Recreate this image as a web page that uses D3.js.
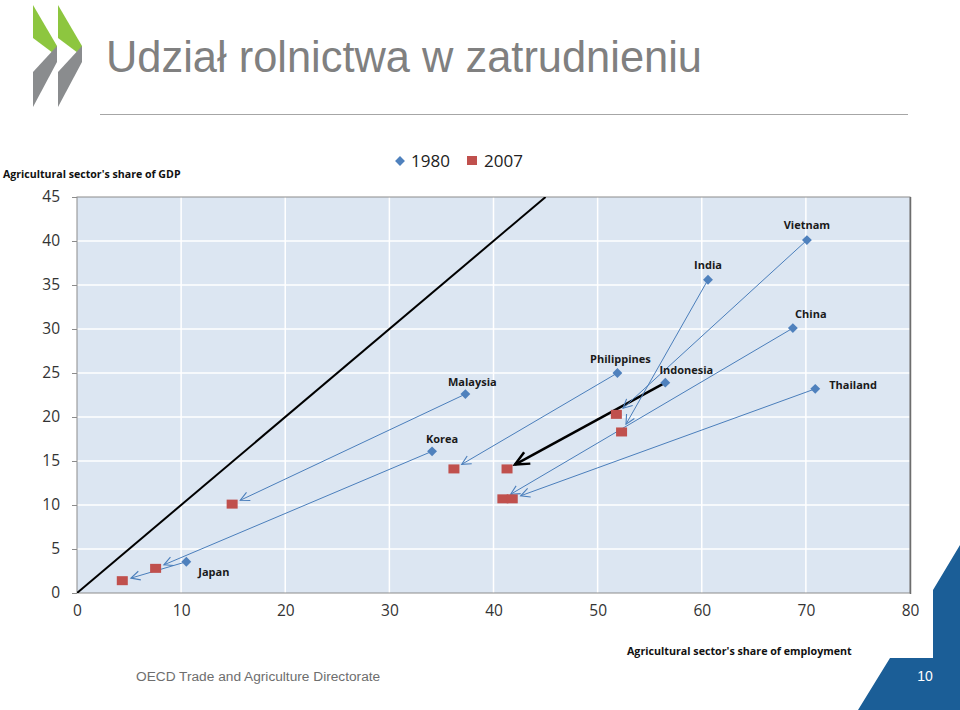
<!DOCTYPE html>
<html><head><meta charset="utf-8">
<script src="https://cdn.jsdelivr.net/npm/d3@7/dist/d3.min.js"></script>
<style>body{margin:0;background:#fff;} svg{display:block;}</style>
</head><body>
<svg id="c" width="960" height="710"></svg>
<script>
const countries = ["Japan","Korea","Malaysia","Philippines","Indonesia","India","Vietnam","China","Thailand"];
const emp1980 = [10.5, 34.1, 37.3, 51.9, 56.5, 60.6, 70.1, 68.75, 70.9];
const gdp1980 = [3.55, 16.1, 22.6, 25.0, 23.9, 35.6, 40.1, 30.1, 23.2];
const emp2007 = [4.35, 7.55, 14.9, 36.2, 41.3, 52.3, 51.8, 40.9, 41.8];
const gdp2007 = [1.4, 2.8, 10.1, 14.1, 14.1, 18.3, 20.3, 10.7, 10.7];
const xTicks = [0,10,20,30,40,50,60,70,80];
const yTicks = [0,5,10,15,20,25,30,35,40,45];
const seriesNames = ["1980","2007"];
const highlighted = "Indonesia";
// label offsets (layout): [dx, dy, anchor]
const labelPos = {
  Japan:[12,14,"start"], Korea:[10,-8,"middle"], Malaysia:[7,-8,"middle"],
  Philippines:[3,-10,"middle"], Indonesia:[21,-9,"middle"], India:[0,-11,"middle"],
  Vietnam:[0,-11,"middle"], China:[18,-10,"middle"], Thailand:[14,0,"start"]
};

const svg = d3.select("#c");
const L=77, R=910, T=197, B=593;
const x = d3.scaleLinear().domain([0,80]).range([L,R]);
const y = d3.scaleLinear().domain([0,45]).range([B,T]);

// Logo
const logo = svg.append("g");
[0,25].forEach(o=>{
  logo.append("polygon").attr("points",[[33+o,5],[57+o,46],[57+o,56],[33+o,38]].join(" ")).attr("fill","#8dc63f");
  logo.append("polygon").attr("points",[[33+o,72],[57+o,46],[57+o,62],[33+o,107]].join(" ")).attr("fill","#8a8c8e");
});
// Title
svg.append("text").attr("x",106).attr("y",72).text("Udział rolnictwa w zatrudnieniu")
  .attr("font-family","Liberation Sans, Arial, sans-serif").attr("font-size",43.5).attr("fill","#808080")
  .attr("textLength",596).attr("lengthAdjust","spacingAndGlyphs");
svg.append("line").attr("x1",100).attr("x2",908).attr("y1",114.5).attr("y2",114.5).attr("stroke","#a6a6a6").attr("stroke-width",1.2);

// plot bg
svg.append("rect").attr("x",L).attr("y",T).attr("width",R-L).attr("height",B-T).attr("fill","#dce6f2");
// grid
svg.append("g").selectAll("line").data(xTicks.slice(1,-1)).join("line")
  .attr("x1",d=>x(d)).attr("x2",d=>x(d)).attr("y1",T).attr("y2",B).attr("stroke","#fff").attr("stroke-width",1.5);
svg.append("g").selectAll("line").data(yTicks.slice(1,-1)).join("line")
  .attr("x1",L).attr("x2",R).attr("y1",d=>y(d)).attr("y2",d=>y(d)).attr("stroke","#fff").attr("stroke-width",1.5);
// border
svg.append("rect").attr("x",L).attr("y",T).attr("width",R-L).attr("height",B-T).attr("fill","none").attr("stroke","#8c8c8c").attr("stroke-width",1);
svg.append("line").attr("x1",R+0.5).attr("x2",R+0.5).attr("y1",T).attr("y2",B+1).attr("stroke","#6d6d6d").attr("stroke-width",1.5);

// axes
const font = "Open Sans, Liberation Sans, sans-serif";
const yAxis = svg.append("g").attr("transform",`translate(${L},0)`)
  .call(d3.axisLeft(y).tickValues(yTicks).tickSize(5).tickPadding(12));
const xAxis = svg.append("g").attr("transform",`translate(0,${B})`)
  .call(d3.axisBottom(x).tickValues(xTicks).tickSize(0).tickPadding(12));
[yAxis,xAxis].forEach(a=>{
  a.select(".domain").remove();
  a.selectAll("text").attr("font-family",font).attr("font-size",15.5).attr("fill","#333");
  a.selectAll("line").attr("stroke","#8c8c8c");
});

// 45-degree line
const clipId="pc";
svg.append("clipPath").attr("id",clipId).append("rect").attr("x",L).attr("y",T).attr("width",R-L).attr("height",B-T);
svg.append("line").attr("clip-path",`url(#${clipId})`)
  .attr("x1",x(0)).attr("y1",y(0)).attr("x2",x(45)).attr("y2",y(45)).attr("stroke","#000").attr("stroke-width",2);

// markers
const defs = svg.append("defs");
defs.append("marker").attr("id","ab").attr("markerUnits","userSpaceOnUse").attr("markerWidth",14).attr("markerHeight",14)
  .attr("refX",10).attr("refY",7).attr("orient","auto")
  .append("path").attr("d","M1,2.5 L10,7 L1,11.5").attr("fill","none").attr("stroke","#4a7ebb").attr("stroke-width",1.1);
defs.append("marker").attr("id","ak").attr("markerUnits","userSpaceOnUse").attr("markerWidth",20).attr("markerHeight",20)
  .attr("refX",15).attr("refY",10).attr("orient","auto")
  .append("path").attr("d","M1,3.5 L15,10 L1,16.5").attr("fill","none").attr("stroke","#000").attr("stroke-width",2.5);

const data = countries.map((c,i)=>({c, x0:emp1980[i], y0:gdp1980[i], x1:emp2007[i], y1:gdp2007[i]}));
// arrows
svg.append("g").selectAll("line").data(data).join("line")
  .each(function(d){
    const ax=x(d.x0), ay=y(d.y0), bx=x(d.x1), by=y(d.y1);
    const len=Math.hypot(bx-ax,by-ay), sh=9;
    const ex=bx-(bx-ax)/len*sh, ey=by-(by-ay)/len*sh;
    d3.select(this).attr("x1",ax).attr("y1",ay).attr("x2",ex).attr("y2",ey);
  })
  .attr("stroke",d=>d.c===highlighted?"#000":"#4a7ebb")
  .attr("stroke-width",d=>d.c===highlighted?2.5:1)
  .attr("marker-end",d=>d.c===highlighted?"url(#ak)":"url(#ab)");

// squares 2007
svg.append("g").selectAll("rect").data(data).join("rect")
  .attr("x",d=>x(d.x1)-5.5).attr("y",d=>y(d.y1)-4.5).attr("width",11).attr("height",9).attr("fill","#c0504d");
// diamonds 1980
const diamond = d3.symbol().type(d3.symbolDiamond2).size(62);
svg.append("g").selectAll("path").data(data).join("path")
  .attr("d",diamond).attr("transform",d=>`translate(${x(d.x0)},${y(d.y0)})`).attr("fill","#4f81bd");
// labels
svg.append("g").selectAll("text").data(data).join("text")
  .attr("x",d=>x(d.x0)+labelPos[d.c][0]).attr("y",d=>y(d.y0)+labelPos[d.c][1])
  .attr("text-anchor",d=>labelPos[d.c][2])
  .attr("font-family",font).attr("font-size",11).attr("font-weight","bold").attr("fill","#1a1a1a")
  .text(d=>d.c);

// legend
const lg = svg.append("g");
lg.append("path").attr("d",diamond).attr("transform","translate(400,161)").attr("fill","#4f81bd");
lg.append("text").attr("x",411).attr("y",167).text(seriesNames[0]).attr("font-family",font).attr("font-size",17).attr("fill","#222");
lg.append("rect").attr("x",467).attr("y",156).attr("width",10).attr("height",9).attr("fill","#c0504d");
lg.append("text").attr("x",484).attr("y",167).text(seriesNames[1]).attr("font-family",font).attr("font-size",17).attr("fill","#222");

// axis titles
svg.append("text").attr("x",3).attr("y",178).text("Agricultural sector's share of GDP")
  .attr("font-family",font).attr("font-size",10.6).attr("font-weight","bold").attr("fill","#111");
svg.append("text").attr("x",627).attr("y",655).text("Agricultural sector's share of employment")
  .attr("font-family",font).attr("font-size",10.7).attr("font-weight","bold").attr("fill","#111");

// footer
svg.append("text").attr("x",136).attr("y",681).text("OECD Trade and Agriculture Directorate")
  .attr("font-family","Liberation Sans, Arial, sans-serif").attr("font-size",13.7).attr("fill","#6e6e6e");
svg.append("polygon").attr("points",[[960,545],[933,590],[933,658],[890,658],[858,710],[960,710]].join(" ")).attr("fill","#1b5e97");
svg.append("text").attr("x",925).attr("y",681).attr("text-anchor","middle").text("10")
  .attr("font-family","Liberation Sans, Arial, sans-serif").attr("font-size",14).attr("fill","#fff");
</script>
</body></html>
